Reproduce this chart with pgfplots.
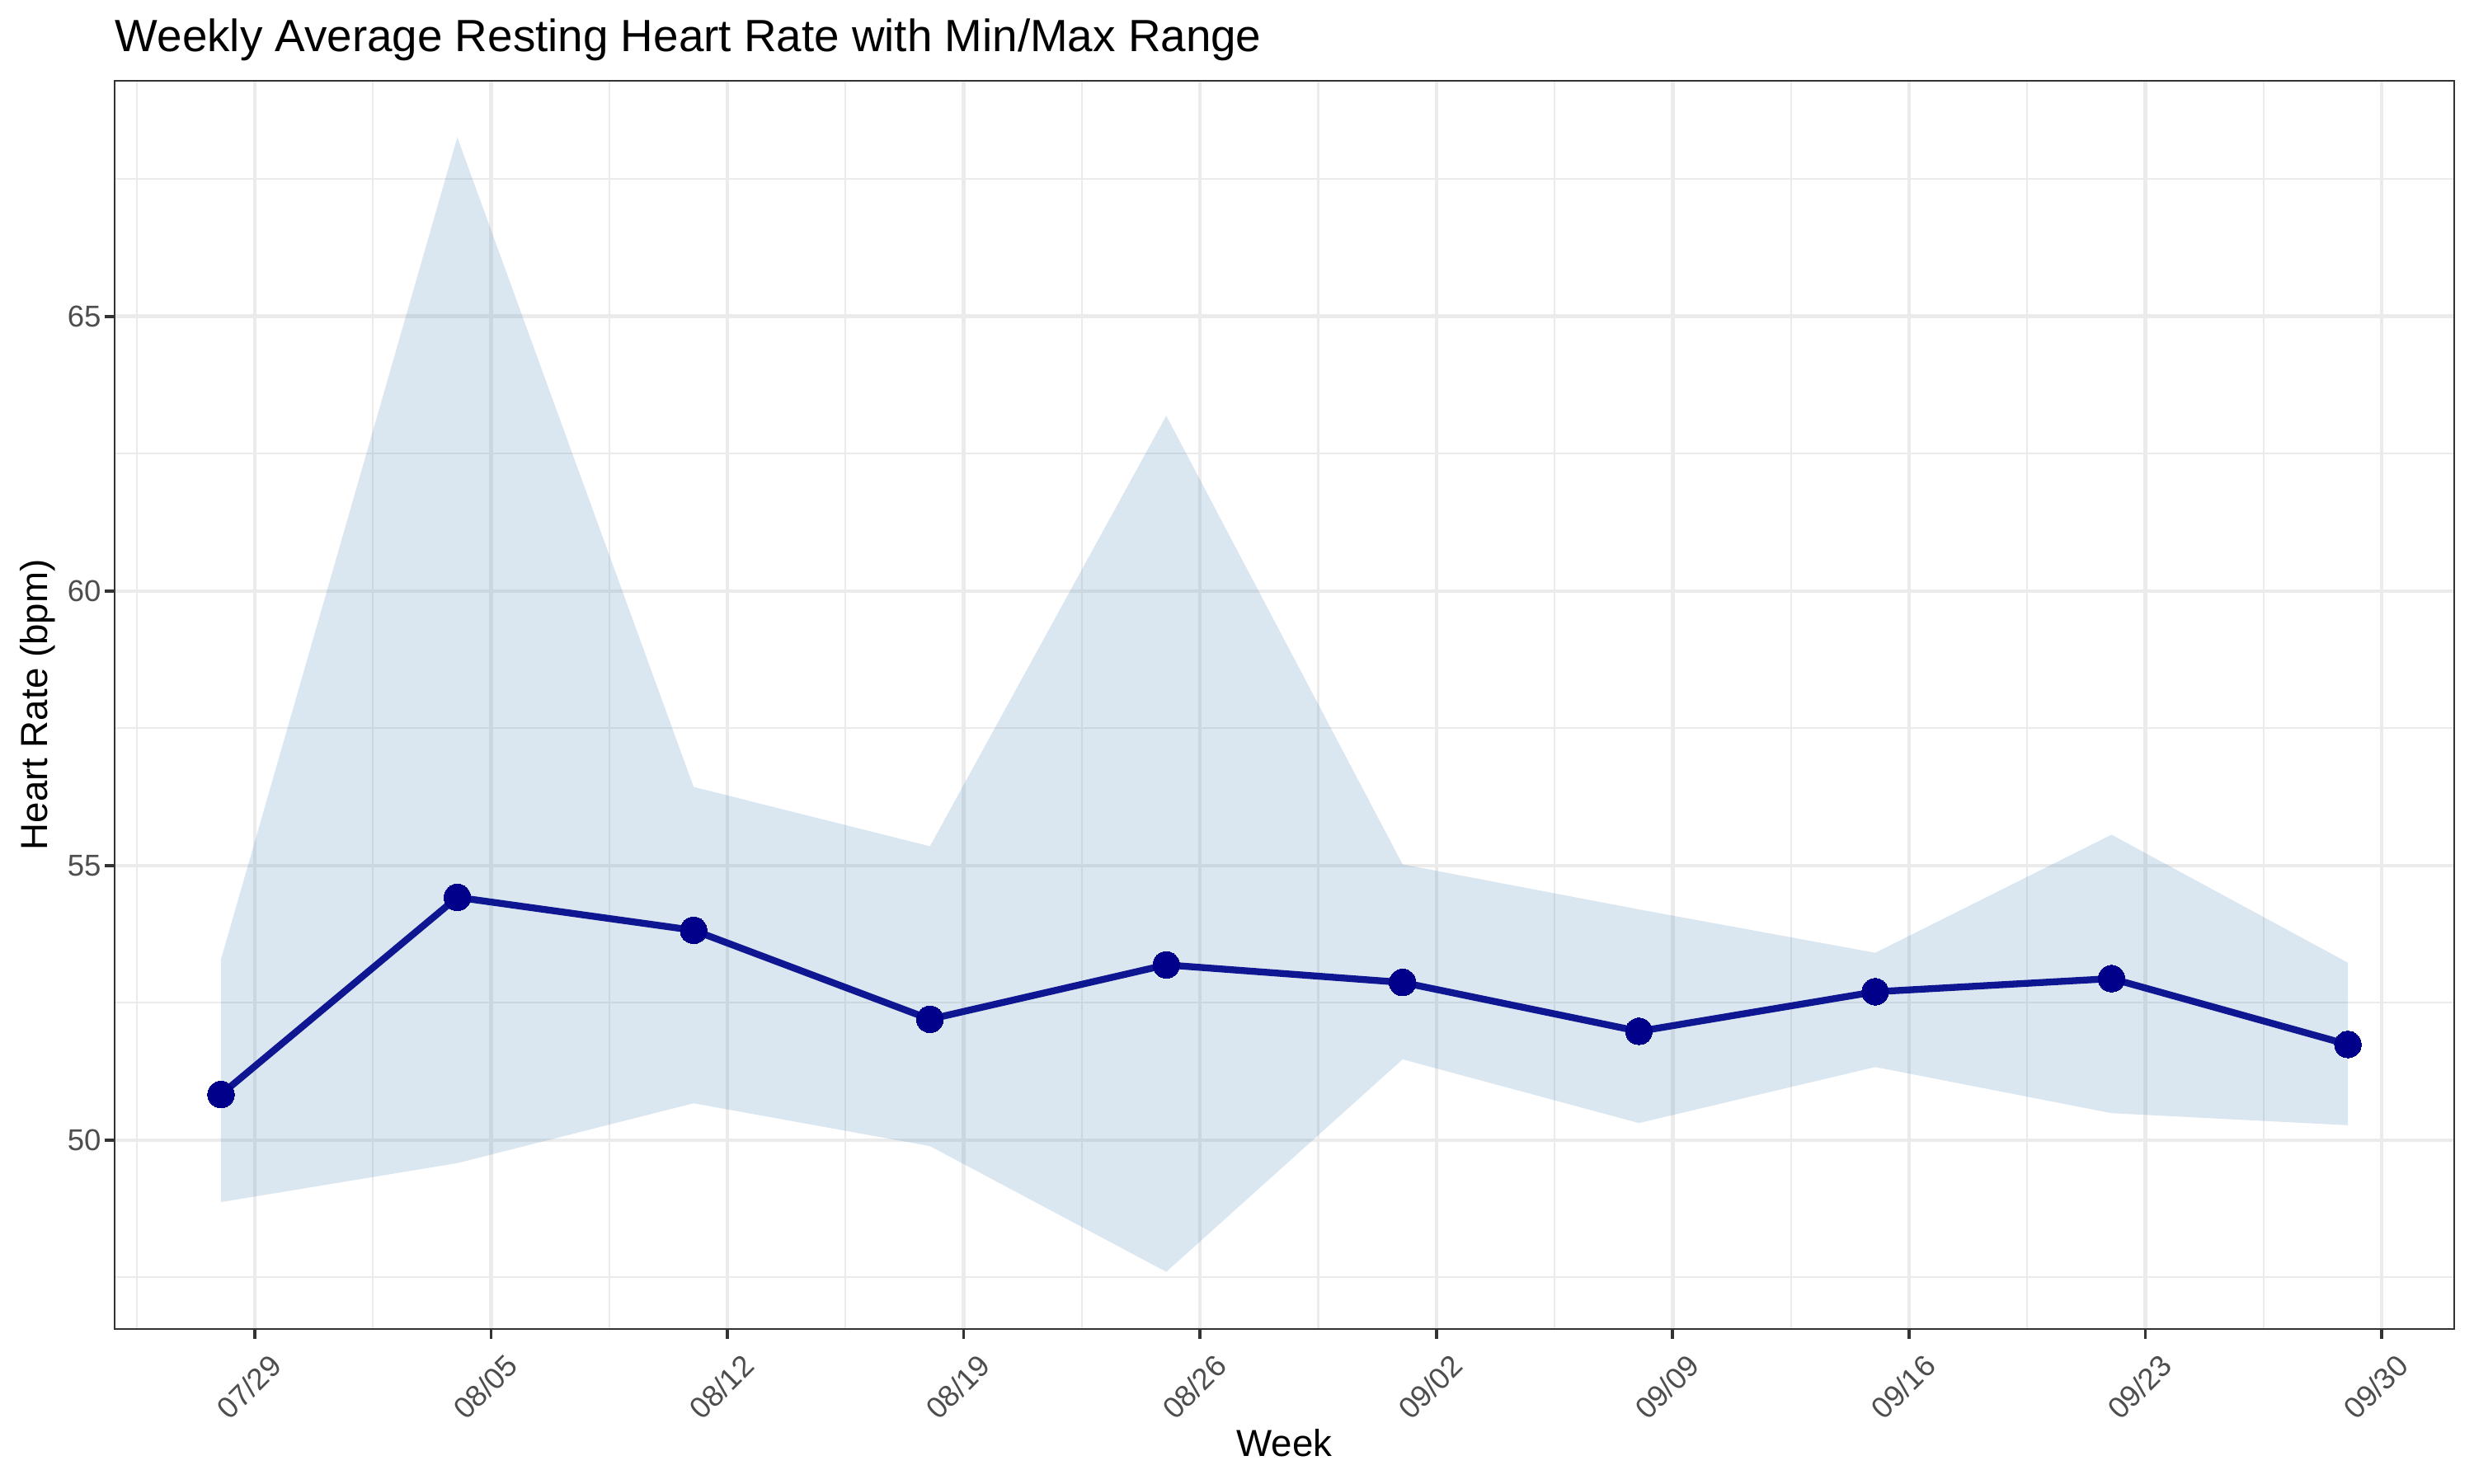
\documentclass[border=0pt]{standalone}
\usepackage{pgfplots}
\pgfplotsset{compat=1.18}
\usepackage{fontspec}
\setmainfont{Liberation Sans}
\definecolor{gray30}{HTML}{4D4D4D}
\definecolor{gray20}{HTML}{333333}
\definecolor{gray92}{HTML}{EBEBEB}
\definecolor{steelblue}{HTML}{4682B4}
\definecolor{meanline}{HTML}{0E1692}
\definecolor{darkblue}{HTML}{00008B}
\begin{document}
\begin{tikzpicture}
\begin{axis}[
  scale only axis,
  width=683.4pt, height=364.7pt,
  xmin=-4.15, xmax=65.15,
  ymin=46.56, ymax=69.29,
  xtick={0,7,14,21,28,35,42,49,56,63},
  xticklabels={07/29,08/05,08/12,08/19,08/26,09/02,09/09,09/16,09/23,09/30},
  minor xtick={-3.5,3.5,10.5,17.5,24.5,31.5,38.5,45.5,52.5,59.5},
  ytick={50,55,60,65},
  minor ytick={47.5,52.5,57.5,62.5,67.5},
  grid=both,
  major grid style={color=gray92, line width=1.07pt},
  minor grid style={color=gray92, line width=0.53pt},
  tick align=outside,
  major tick length=2.8pt,
  minor tick length=0pt,
  tick style={color=gray20, line width=0.9pt},
  xtick pos=bottom, ytick pos=left,
  axis line style={color=gray20, line width=0.6pt},
  /pgf/number format/assume math mode=true,
  ticklabel style={font=\fontsize{8.8}{10}\selectfont, text=gray30},
  xticklabel style={xshift=3.8pt, yshift=-2.4pt, rotate=45, anchor=north east, inner sep=1pt},
  yticklabel style={inner sep=1pt},
  every axis title shift=0pt,
  title={Weekly Average Resting Heart Rate with Min/Max Range},
  title style={at={(rel axis cs:0,1)}, anchor=base west, yshift=8.43pt, font=\fontsize{13.2}{15}\selectfont, inner sep=0pt},
  xlabel={Week},
  xlabel style={at={(rel axis cs:0.5,0)}, anchor=base, yshift=-37.3pt, font=\fontsize{11}{13}\selectfont, inner sep=0pt},
  ylabel={Heart Rate (bpm)},
  ylabel style={at={(rel axis cs:0,0.5)}, anchor=base, yshift=19.75pt, font=\fontsize{11}{13}\selectfont, inner sep=0pt},
  clip=true,
]
% ribbon: upper forward, lower backward
\addplot[fill=steelblue, fill opacity=0.2, draw=none] coordinates {
(-1,53.29) (6,68.26) (13,56.43) (20,55.35) (27,63.19) (34,55.02) (41,54.20) (48,53.41) (55,55.56) (62,53.23)
(62,50.27) (55,50.49) (48,51.33) (41,50.31) (34,51.47) (27,47.60) (20,49.89) (13,50.67) (6,49.58) (-1,48.87)
} -- cycle;
% mean line
\addplot[meanline, line width=2pt, line join=round] coordinates {
(-1,50.83) (6,54.42) (13,53.82) (20,52.20) (27,53.19) (34,52.87) (41,51.98) (48,52.70) (55,52.94) (62,51.74)
};
% mean points
\addplot[only marks, mark=*, mark size=3.9pt, mark options={fill=darkblue, draw=darkblue, line width=0pt}] coordinates {
(-1,50.83) (6,54.42) (13,53.82) (20,52.20) (27,53.19) (34,52.87) (41,51.98) (48,52.70) (55,52.94) (62,51.74)
};
\coordinate (sw) at (rel axis cs:0,0);
\coordinate (ne) at (rel axis cs:1,1);
\end{axis}
\pgfresetboundingbox
\path ([xshift=-33.49pt,yshift=-45.29pt]sw) rectangle ([xshift=5.78pt,yshift=23.6pt]ne);
\end{tikzpicture}
\end{document}
